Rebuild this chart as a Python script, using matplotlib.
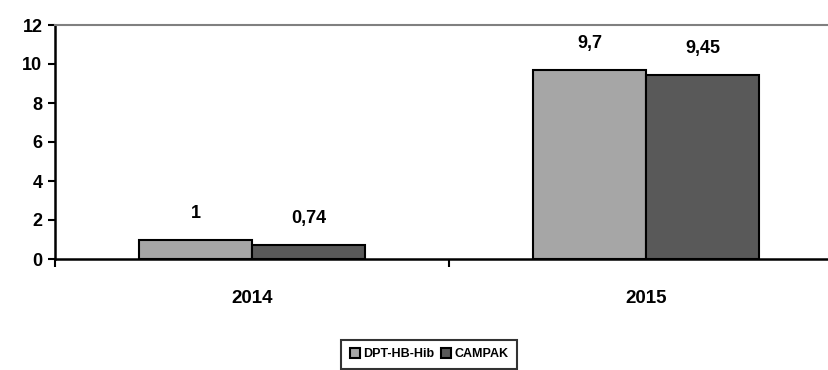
import numpy as np
import matplotlib.pyplot as plt

years = ["2014", "2015"]
dpt = [1, 9.7]
campak = [0.74, 9.45]
dpt_labels = ["1", "9,7"]
campak_labels = ["0,74", "9,45"]

plt.rcParams['font.family'] = ['Liberation Sans', 'DejaVu Sans']
plt.rcParams['font.weight'] = 'bold'

fig = plt.figure(figsize=(8.29, 3.70), dpi=100)
ax = fig.add_axes([55/829, 111/370, 788/829, 234/370])

x = np.arange(len(years))
w = 0.287
b1 = ax.bar(x - w/2, dpt, w, color='#a6a6a6', edgecolor='black', linewidth=1.5, label='DPT-HB-Hib')
b2 = ax.bar(x + w/2, campak, w, color='#595959', edgecolor='black', linewidth=1.5, label='CAMPAK')

# value labels above the bars
for bars, labs in [(b1, dpt_labels), (b2, campak_labels)]:
    for r, t in zip(bars, labs):
        ax.annotate(t, (r.get_x() + r.get_width()/2, r.get_height()),
                    xytext=(0, 19), textcoords='offset points',
                    ha='center', va='center', fontsize=13, fontweight='bold')

ax.set_xlim(-0.5, 1.5)
ax.set_ylim(0, 12)
ax.set_yticks(range(0, 13, 2))
ax.set_xticks(x)
ax.set_xticklabels(years)
ax.set_xticks([-0.5, 0.5, 1.5], minor=True)
ax.tick_params(axis='x', which='major', length=0, pad=22, labelsize=13.5)
ax.tick_params(axis='x', which='minor', length=6, width=1.5, direction='out')
ax.tick_params(axis='y', length=5, width=1.5, direction='out', labelsize=13, pad=4)
for lab in ax.get_xticklabels() + ax.get_yticklabels():
    lab.set_fontweight('bold')

ax.spines['left'].set_linewidth(1.8)
ax.spines['bottom'].set_linewidth(1.8)
ax.spines['top'].set_color('#808080')
ax.spines['top'].set_linewidth(1.5)
ax.spines['right'].set_visible(False)

leg = fig.legend(loc='upper center', bbox_to_anchor=(429/829, 1 - 337/370), ncol=2,
                 frameon=True, fancybox=False, edgecolor='black', fontsize=9,
                 handlelength=0.8, handleheight=0.8, handletextpad=0.25, columnspacing=0.6,
                 borderpad=0.7, borderaxespad=0.2)
leg.get_frame().set_linewidth(1.5)
for t in leg.get_texts():
    t.set_fontweight('bold')

fig.savefig('out.png', dpi=100)
